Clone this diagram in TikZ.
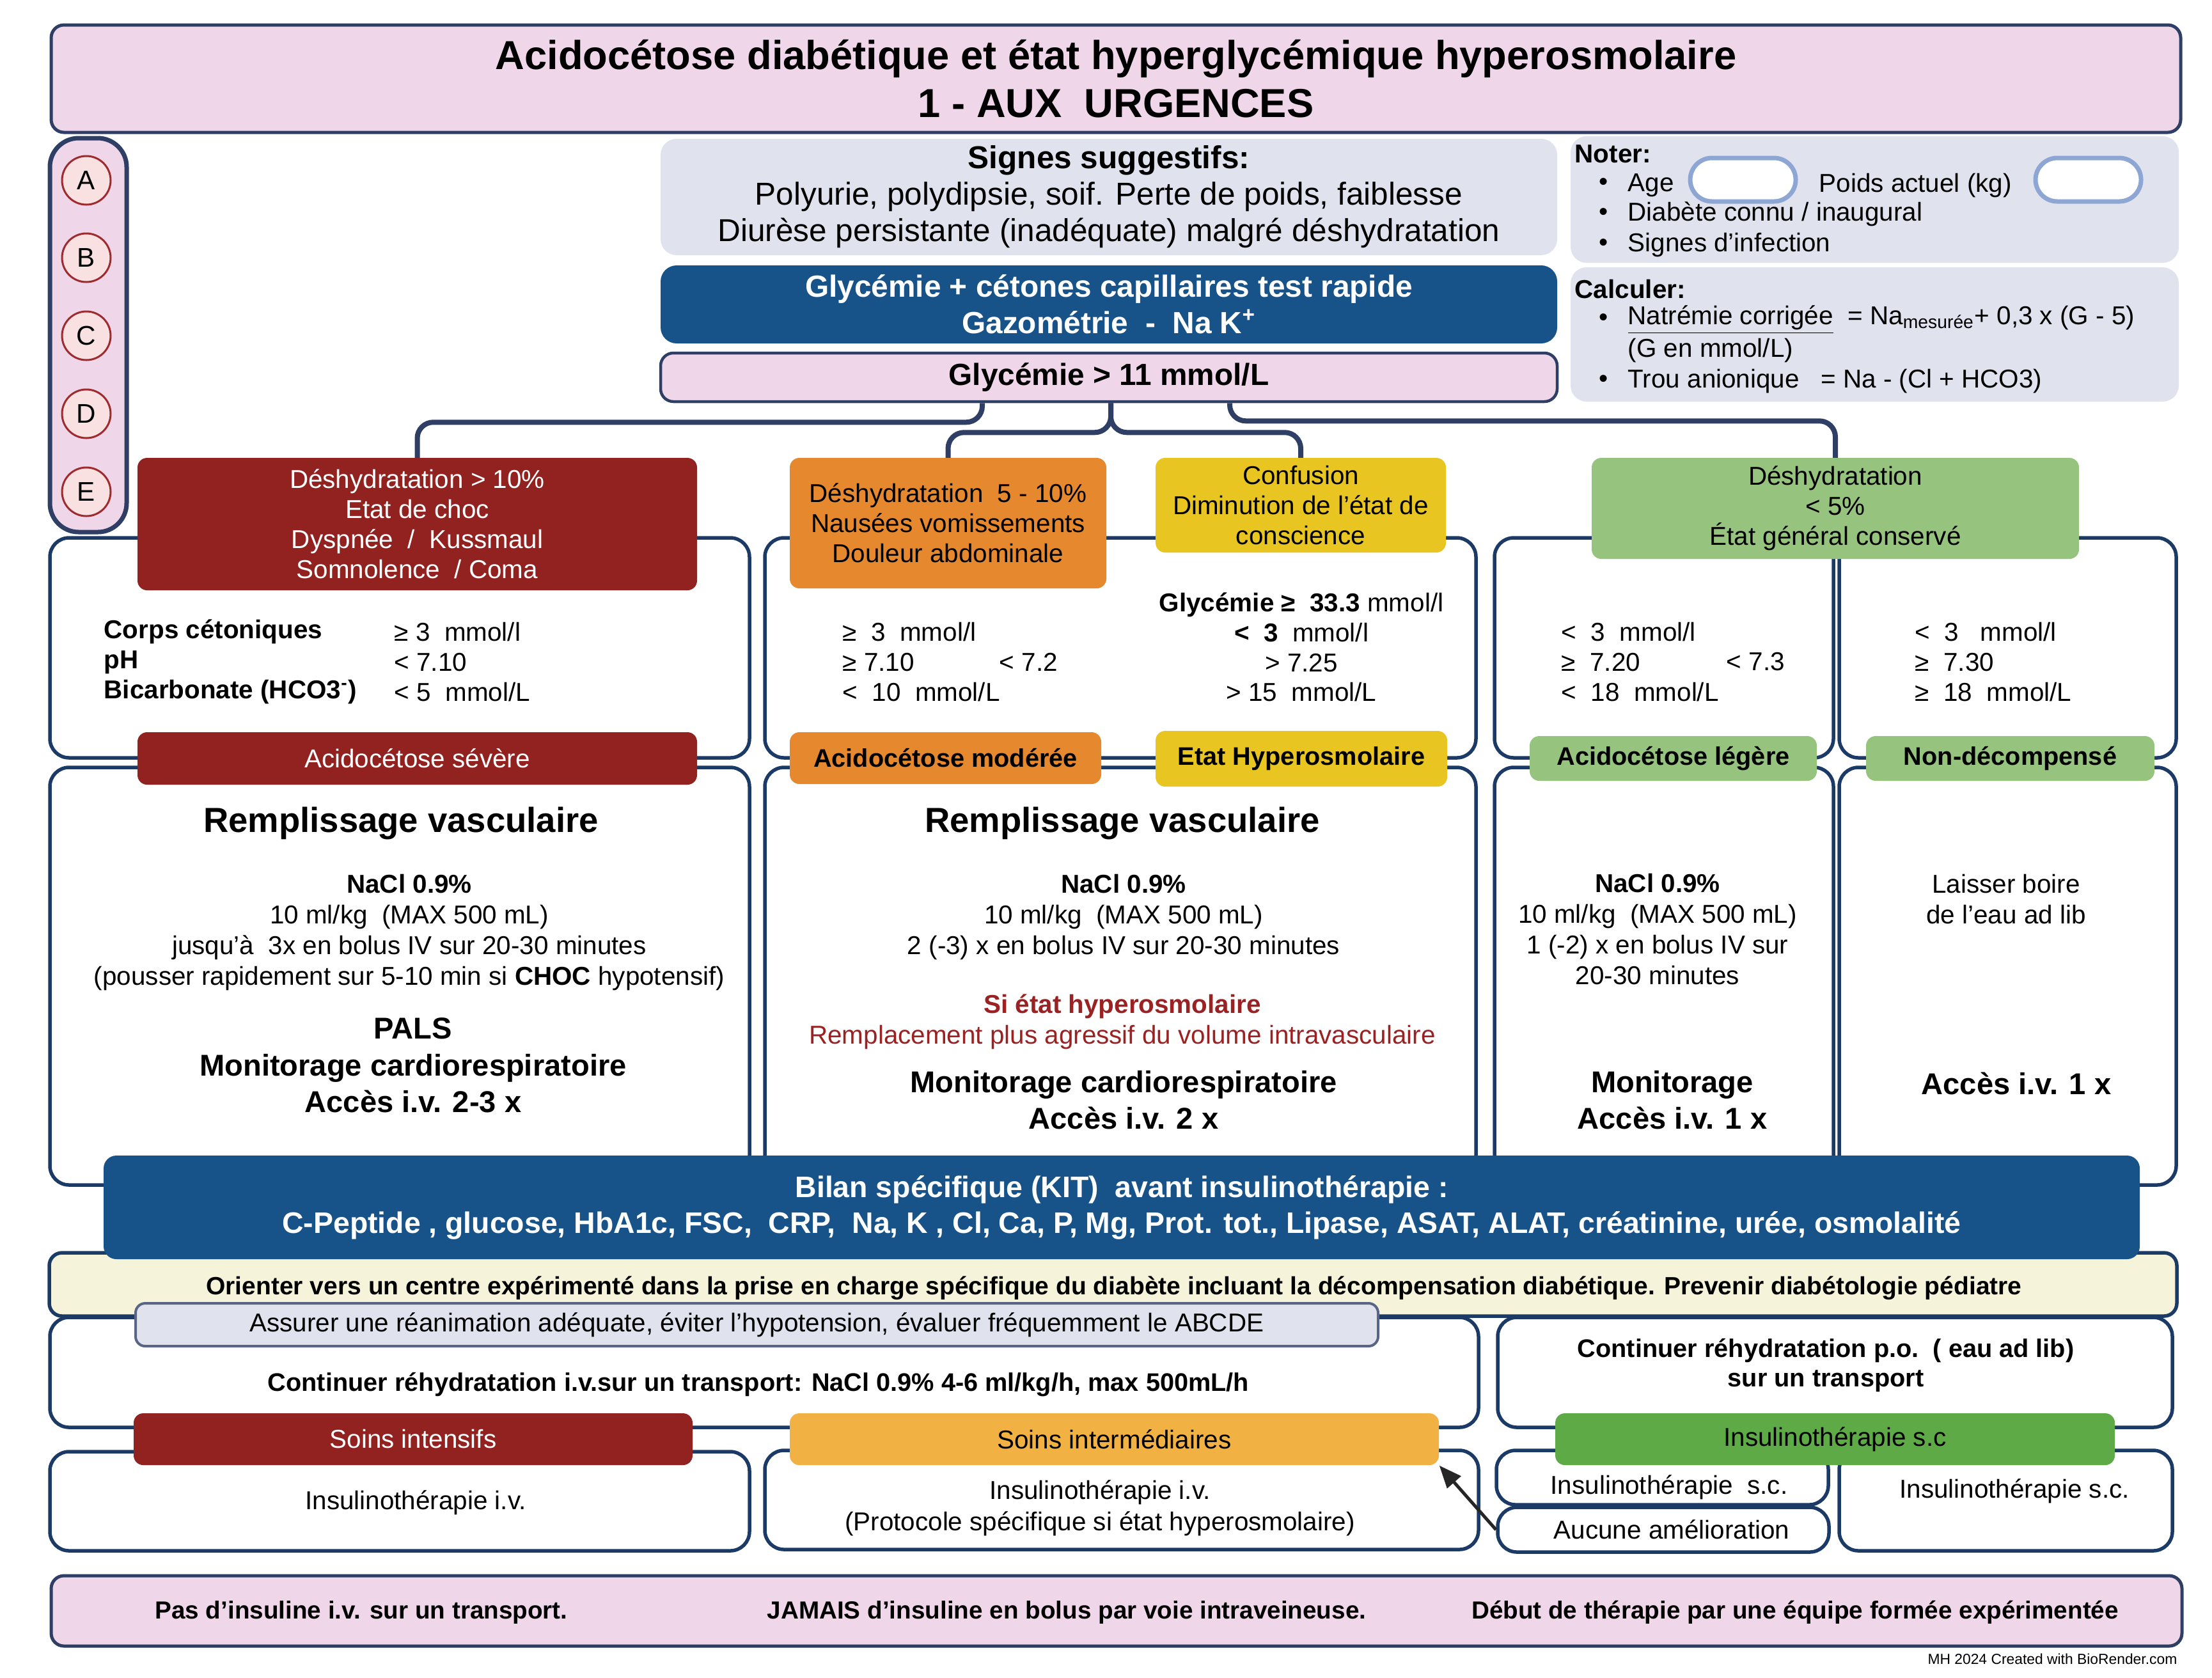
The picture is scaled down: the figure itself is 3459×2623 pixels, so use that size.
\documentclass[tikz,border=0pt]{standalone}
\usepackage{fontspec}
\setmainfont{Liberation Sans}
\usetikzlibrary{calc,arrows.meta}

\definecolor{rose}{HTML}{EFD6E8}
\definecolor{marine}{HTML}{2E3E65}
\definecolor{navy}{HTML}{1C3A66}
\definecolor{gris}{HTML}{E0E3EE}
\definecolor{bleu}{HTML}{175389}
\definecolor{rouge}{HTML}{922220}
\definecolor{orangeb}{HTML}{E5882E}
\definecolor{jaune}{HTML}{E8C521}
\definecolor{vertc}{HTML}{96C47E}
\definecolor{vertf}{HTML}{5DAA47}
\definecolor{ambre}{HTML}{F1B243}
\definecolor{creme}{HTML}{F5F3D9}
\definecolor{rondfond}{HTML}{F9E1E1}
\definecolor{ronddraw}{HTML}{9E2B30}
\definecolor{pilulec}{HTML}{8EA6D3}
\definecolor{rougetxt}{HTML}{9B2222}

\begin{document}
\begin{tikzpicture}[x=0.1mm, y=-0.1mm]

	\tikzstyle{cadre}=[draw=navy, line width=0.55mm, rounded corners=3mm, fill=white, inner sep=0pt]
	\tikzstyle{pave}=[rounded corners=2.5mm, inner sep=0pt, align=center]
	\tikzstyle{etiq}=[rounded corners=1.5mm, inner sep=0pt, align=center, font=\fontsize{11.5}{13.4}\selectfont]
	\tikzstyle{lien}=[draw=marine, line width=0.8mm, rounded corners=2.5mm]
	\tikzstyle{txt}=[inner sep=0pt, align=center, font=\fontsize{11.5}{13.3}\selectfont]
	\tikzstyle{moni}=[inner sep=0pt, align=center, font=\fontsize{13.4}{16.4}\selectfont\bfseries]
	\tikzstyle{rond}=[circle, draw=ronddraw, fill=rondfond, line width=0.3mm, minimum size=7.6mm, inner sep=0pt, font=\fontsize{12}{14}\selectfont]
	\tikzstyle{pilule}=[draw=pilulec, line width=0.7mm, fill=white, rounded corners=3.4mm, minimum width=16.5mm, minimum height=6.8mm]
	\tikzstyle{fleche}=[-{Triangle[length=3.5mm, width=2.8mm]}, line width=0.5mm, black!85]

	\useasboundingbox (0,0) rectangle (3459,2623);

	\coordinate (c_titre) at (1745,123);
	\coordinate (c_signes) at (1734,308);
	\coordinate (c_tests) at (1734,476);
	\coordinate (c_glyc) at (1734,590);
	\coordinate (c_noter) at (2931.5,312);
	\coordinate (c_calc) at (2931.5,523);

	\coordinate (h_rouge) at (652.5,819.5); % DESHYDRATATION > 10
	\coordinate (h_orange) at (1482.5,818); % DESHYDRATATION 5-10
	\coordinate (h_jaune) at (2034,790); % CONFUSION
	\coordinate (h_vert) at (2870,795); % DESHYDRATATION < 5

	\coordinate (e_sev) at (652.5,1186);
	\coordinate (e_mod) at (1478.5,1185.5);
	\coordinate (e_hyp) at (2035,1186.5);
	\coordinate (e_leg) at (2616.5,1186);
	\coordinate (e_nond) at (3143.5,1186);

	%%%%%%% EN-TETE %%%%%%%%
	\node[pave, fill=rose, draw=marine, line width=0.5mm, rounded corners=2mm, minimum width=333mm, minimum height=16.8mm, font=\fontsize{18}{21.3}\selectfont\bfseries] (titre) at (c_titre) {Acidocétose diabétique et état hyperglycémique hyperosmolaire\\1 - AUX\ \ URGENCES};

	\node[pave, fill=rose, draw=marine, line width=0.7mm, rounded corners=4.5mm, minimum width=12mm, minimum height=61.6mm] (abcde) at (138,524) {};
	\node[rond] (r_a) at (135,282) {A};
	\node[rond] (r_b) at (135,403) {B};
	\node[rond] (r_c) at (135,525) {C};
	\node[rond] (r_d) at (135,647) {D};
	\node[rond] (r_e) at (135,769) {E};

	\node[pave, fill=gris, minimum width=140.2mm, minimum height=18.2mm, font=\fontsize{14.1}{16.2}\selectfont] (signes) at (c_signes) {\textbf{Signes suggestifs:}\\Polyurie, polydipsie, soif. Perte de poids, faiblesse\\Diurèse persistante (inadéquate) malgré déshydratation};
	\node[pave, fill=bleu, text=white, minimum width=140.2mm, minimum height=12.2mm, font=\fontsize{13.6}{16.2}\selectfont\bfseries] (tests) at (c_tests) {Glycémie + cétones capillaires test rapide\\Gazométrie\ \ -\ \ Na K\textsuperscript{+}};
	\node[pave, fill=rose, draw=marine, line width=0.45mm, rounded corners=2mm, minimum width=140.2mm, minimum height=7.6mm, font=\fontsize{13.6}{16.2}\selectfont\bfseries] (glyc) at (c_glyc) {Glycémie > 11 mmol/L};

	%%%%%%% NOTER / CALCULER %%%%%%%%
	\node[pave, fill=gris, minimum width=95.1mm, minimum height=19.8mm] (noter) at (c_noter) {};
	\node[pave, fill=gris, minimum width=95.1mm, minimum height=21mm] (calc) at (c_calc) {};
	\node[txt, anchor=west, font=\fontsize{11.5}{13.3}\selectfont\bfseries] (t_noter) at (2462,241) {Noter:};
	\node[txt] (p_1) at (2508,288) {\textbullet};
	\node[txt] (p_2) at (2508,335) {\textbullet};
	\node[txt] (p_3) at (2508,383) {\textbullet};
	\node[txt, anchor=west] (t_age) at (2545,290) {Age};
	\node[pilule] (f_age) at (2725.5,281) {};
	\node[txt, anchor=west] (t_poids) at (2844,290) {Poids actuel (kg)};
	\node[pilule] (f_poids) at (3265.5,281) {};
	\node[txt, anchor=west] (t_diab) at (2545,335) {Diabète connu / inaugural};
	\node[txt, anchor=west] (t_inf) at (2545,383) {Signes d'infection};
	\node[txt, anchor=west, font=\fontsize{11.5}{13.3}\selectfont\bfseries] (t_calc) at (2462,452) {Calculer:};
	\node[txt] (p_4) at (2508,500) {\textbullet};
	\node[txt] (p_5) at (2508,596) {\textbullet};
	\node[txt, anchor=west] (t_na) at (2545,500) {\underline{Natrémie corrigée}\ \ = Na\textsubscript{mesurée}+ 0,3 x (G - 5)};
	\node[txt, anchor=west] (t_g) at (2545,548) {(G en mmol/L)};
	\node[txt, anchor=west] (t_trou) at (2545,596) {Trou anionique\ \ \ = Na - (Cl + HCO3)};

	%%%%%%% ARBRE %%%%%%%%
	\coordinate (t_gauche) at ($(glyc.south)+(-198,0)$);
	\coordinate (t_milieu) at ($(glyc.south)+(3,0)$);
	\coordinate (t_droite) at ($(glyc.south)+(189,0)$);
	\draw[lien] (t_gauche) -- ++(0,30) -| (h_rouge |- 0,720);
	\draw[lien] (t_milieu) -- ++(0,46) -| (h_orange |- 0,720);
	\draw[lien] (t_milieu) -- ++(0,46) -| (h_jaune |- 0,720);
	\draw[lien] (t_droite) -- ++(0,28) -| (h_vert |- 0,720);

	%%%%%%% CADRES %%%%%%%%
	\node[cadre, minimum width=109.4mm, minimum height=34.4mm] (b_1) at (625,1013) {};
	\node[cadre, minimum width=111.2mm, minimum height=34.4mm] (b_2) at (1752,1013) {};
	\node[cadre, minimum width=53mm, minimum height=34.4mm] (b_3) at (2602,1013) {};
	\node[cadre, minimum width=52.7mm, minimum height=34.4mm] (b_4) at (3139.5,1013) {};
	\node[cadre, minimum width=109.4mm, minimum height=65.3mm] (s_1) at (625,1526.5) {};
	\node[cadre, minimum width=111.2mm, minimum height=65.3mm] (s_2) at (1752,1526.5) {};
	\node[cadre, minimum width=53mm, minimum height=65.3mm] (s_3) at (2602,1526.5) {};
	\node[cadre, minimum width=52.7mm, minimum height=65.3mm] (s_4) at (3139.5,1526.5) {};

	%%%%%%% SIGNES CLINIQUES %%%%%%%%
	\node[etiq, fill=rouge, text=white, minimum width=87.5mm, minimum height=20.7mm] (rouge) at (h_rouge) {Déshydratation > 10\%\\Etat de choc\\Dyspnée\ \ /\ \ Kussmaul\\Somnolence\ \ / Coma};
	\node[etiq, fill=orangeb, minimum width=49.5mm, minimum height=20.4mm] (orange) at (h_orange) {Déshydratation\ \ 5 - 10\%\\Nausées vomissements\\Douleur abdominale};
	\node[etiq, fill=jaune, minimum width=45.4mm, minimum height=14.8mm] (jaune) at (h_jaune) {Confusion\\Diminution de l’état de\\conscience};
	\node[etiq, fill=vertc, minimum width=76.2mm, minimum height=15.8mm] (vert) at (h_vert) {Déshydratation\\< 5\%\\État général conservé};

	\node[etiq, fill=rouge, text=white, minimum width=87.5mm, minimum height=8.2mm] (sev) at (e_sev) {Acidocétose sévère};
	\node[etiq, fill=orangeb, minimum width=48.7mm, minimum height=8.1mm, font=\fontsize{11.3}{13.4}\selectfont\bfseries] (mod) at (e_mod) {Acidocétose modérée};
	\node[etiq, fill=jaune, minimum width=45.6mm, minimum height=8.7mm, font=\fontsize{11.3}{13.4}\selectfont\bfseries] (hyp) at (e_hyp) {Etat Hyperosmolaire};
	\node[etiq, fill=vertc, minimum width=44.9mm, minimum height=7mm, font=\fontsize{11.3}{13.4}\selectfont\bfseries] (leg) at (e_leg) {Acidocétose légère};
	\node[etiq, fill=vertc, minimum width=45.1mm, minimum height=7mm, font=\fontsize{11.3}{13.4}\selectfont\bfseries] (nond) at (e_nond) {Non-décompensé};

	%%%%%%% VALEURS %%%%%%%%
	\node[txt, anchor=west, align=left] (v_noms) at (162,1035) {\textbf{Corps cétoniques}\\\textbf{pH}\\\textbf{Bicarbonate (HCO3\textsuperscript{-})}};
	\node[txt, anchor=west, align=left] (v_sev) at (616,1035) {≥\ 3\ \ mmol/l\\<\ 7.10\\<\ 5\ \ mmol/L};
	\node[txt, anchor=west, align=left] (v_mod) at (1317,1035) {≥\ \ 3\ \ mmol/l\\≥ 7.10\\<\ \ 10\ \ mmol/L};
	\node[txt, anchor=west] (v_mod2) at (1562,1035) {< 7.2};
	\node[txt] (v_hyp) at (2035,1012) {\textbf{Glycémie ≥\ \ 33.3} mmol/l\\\textbf{<\ \ 3}\ \ mmol/l\\> 7.25\\> 15\ \ mmol/L};
	\node[txt, anchor=west, align=left] (v_leg) at (2441,1035) {<\ \ 3\ \ mmol/l\\≥\ \ 7.20\\<\ \ 18\ \ mmol/L};
	\node[txt, anchor=west] (v_leg2) at (2699,1035) {< 7.3};
	\node[txt, anchor=west, align=left] (v_nond) at (2994,1035) {<\ \ 3\ \ \ mmol/l\\≥\ \ 7.30\\≥\ \ 18\ \ mmol/L};

	%%%%%%% TRAITEMENT %%%%%%%%
	\node[txt, font=\fontsize{15.5}{18}\selectfont\bfseries] (rv_1) at (627,1287) {Remplissage vasculaire};
	\node[txt, font=\fontsize{11.5}{13.6}\selectfont] (n_1) at (640,1458) {\textbf{NaCl 0.9\%}\\10 ml/kg\ \ (MAX 500 mL)\\jusqu’à\ \ 3x en bolus IV sur 20-30 minutes\\(pousser rapidement sur 5-10 min si \textbf{CHOC} hypotensif)};
	\node[moni] (m_1) at (646,1666) {PALS\\Monitorage cardiorespiratoire\\Accès i.v. 2-3 x};

	\node[txt, font=\fontsize{15.5}{18}\selectfont\bfseries] (rv_2) at (1755,1287) {Remplissage vasculaire};
	\node[txt, font=\fontsize{11.5}{13.6}\selectfont] (n_2) at (1757,1434) {\textbf{NaCl 0.9\%}\\10 ml/kg\ \ (MAX 500 mL)\\2 (-3) x en bolus IV sur 20-30 minutes};
	\node[txt, text=rougetxt, font=\fontsize{11.5}{13.6}\selectfont] (hyp_r) at (1755,1598) {\textbf{Si état hyperosmolaire}\\Remplacement plus agressif du volume intravasculaire};
	\node[moni] (m_2) at (1757,1720) {Monitorage cardiorespiratoire\\Accès i.v. 2 x};

	\node[txt, font=\fontsize{11.5}{13.6}\selectfont] (n_3) at (2592,1453) {\textbf{NaCl 0.9\%}\\10 ml/kg\ \ (MAX 500 mL)\\1 (-2) x en bolus IV sur\\20-30 minutes};
	\node[moni] (m_3) at (2615,1720) {Monitorage\\Accès i.v. 1 x};

	\node[txt, font=\fontsize{11.5}{13.6}\selectfont] (n_4) at (3137,1406) {Laisser boire\\de l'eau ad lib};
	\node[moni] (m_4) at (3153,1694) {Accès i.v. 1 x};

	%%%%%%% BILAN / ORIENTATION %%%%%%%%
	\node[pave, fill=creme, draw=navy, line width=0.55mm, rounded corners=2mm, minimum width=332.7mm, minimum height=9.9mm] (orient) at (1740.5,2008.5) {};
	\node[txt, font=\fontsize{11.1}{13}\selectfont\bfseries] (t_orient) at (1742,2014) {Orienter vers un centre expérimenté dans la prise en charge spécifique du diabète incluant la décompensation diabétique. Prevenir diabétologie pédiatre};
	\node[pave, fill=bleu, text=white, rounded corners=2mm, minimum width=318.4mm, minimum height=16.2mm, font=\fontsize{13.2}{15.9}\selectfont\bfseries] (bilan) at (1754,1888) {Bilan spécifique (KIT)\ \ avant insulinothérapie :\\C-Peptide , glucose, HbA1c, FSC,\ \ CRP,\ \ Na, K , Cl, Ca, P, Mg, Prot. tot., Lipase, ASAT, ALAT, créatinine, urée, osmolalité};

	%%%%%%% TRANSFERT %%%%%%%%
	\node[cadre, minimum width=223.4mm, minimum height=17.2mm] (tr_1) at (1195,2146) {};
	\node[cadre, minimum width=105.5mm, minimum height=17.2mm] (tr_2) at (2869.5,2146) {};
	\node[pave, fill=gris, draw=marine!80, line width=0.4mm, rounded corners=1.5mm, minimum width=194.3mm, minimum height=6.7mm, font=\fontsize{11.5}{13.4}\selectfont] (assurer) at (1183.5,2071.5) {Assurer une réanimation adéquate, éviter l'hypotension, évaluer fréquemment le ABCDE};
	\node[txt, font=\fontsize{11.3}{13}\selectfont\bfseries] (t_iv) at (1186,2165) {Continuer réhydratation i.v.sur un transport: NaCl 0.9\% 4-6 ml/kg/h, max 500mL/h};
	\node[txt, font=\fontsize{11.3}{13}\selectfont\bfseries] (t_po) at (2855,2135) {Continuer réhydratation p.o.\ \ ( eau ad lib)\\sur un transport};

	%%%%%%% INSULINOTHERAPIE %%%%%%%%
	\node[cadre, minimum width=109.4mm, minimum height=15.5mm] (i_1) at (625,2347.5) {};
	\node[cadre, minimum width=111.6mm, minimum height=15.5mm] (i_2) at (1754,2345.5) {};
	\node[cadre, minimum width=51.9mm, minimum height=8.5mm] (i_3) at (2599.5,2310.5) {};
	\node[cadre, minimum width=51.8mm, minimum height=7mm] (aucune) at (2601,2392) {};
	\node[cadre, minimum width=52.1mm, minimum height=15.7mm] (i_4) at (3136.5,2346.5) {};

	\node[etiq, fill=rouge, text=white, minimum width=87.4mm, minimum height=8.1mm] (si) at (646,2250.5) {Soins intensifs};
	\node[etiq, fill=ambre, minimum width=101.5mm, minimum height=8.1mm] (sint) at (1742.5,2250.5) {Soins intermédiaires};
	\node[etiq, fill=vertf, minimum width=87.5mm, minimum height=8.1mm] (sc) at (2869.5,2250.5) {Insulinothérapie s.c};

	\node[txt] (t_i1) at (650,2350) {Insulinothérapie i.v.};
	\node[txt, font=\fontsize{11.5}{13.9}\selectfont] (t_i2) at (1720,2358) {Insulinothérapie i.v.\\(Protocole spécifique si état hyperosmolaire)};
	\node[txt] (t_i3) at (2610,2326) {Insulinothérapie\ \ s.c.};
	\node[txt] (t_auc) at (2614,2392) {Aucune amélioration};
	\node[txt] (t_i4) at (3150,2332) {Insulinothérapie s.c.};

	\draw[fleche] (aucune.west) -- (sint.south east);

	%%%%%%% PIED %%%%%%%%
	\node[pave, fill=rose, draw=marine, line width=0.5mm, rounded corners=2mm, minimum width=333.2mm, minimum height=11mm] (pied) at (1746,2519) {};
	\node[txt, font=\fontsize{11}{13}\selectfont\bfseries] (pd_1) at (565,2521) {Pas d'insuline i.v. sur un transport.};
	\node[txt, font=\fontsize{11}{13}\selectfont\bfseries] (pd_2) at (1668,2521) {JAMAIS d'insuline en bolus par voie intraveineuse.};
	\node[txt, font=\fontsize{11}{13}\selectfont\bfseries] (pd_3) at (2807,2521) {Début de thérapie par une équipe formée expérimentée};
	\node[txt, anchor=east, font=\fontsize{6.5}{8}\selectfont] (credit) at (3405,2594) {MH 2024 Created with BioRender.com};

\end{tikzpicture}
\end{document}
